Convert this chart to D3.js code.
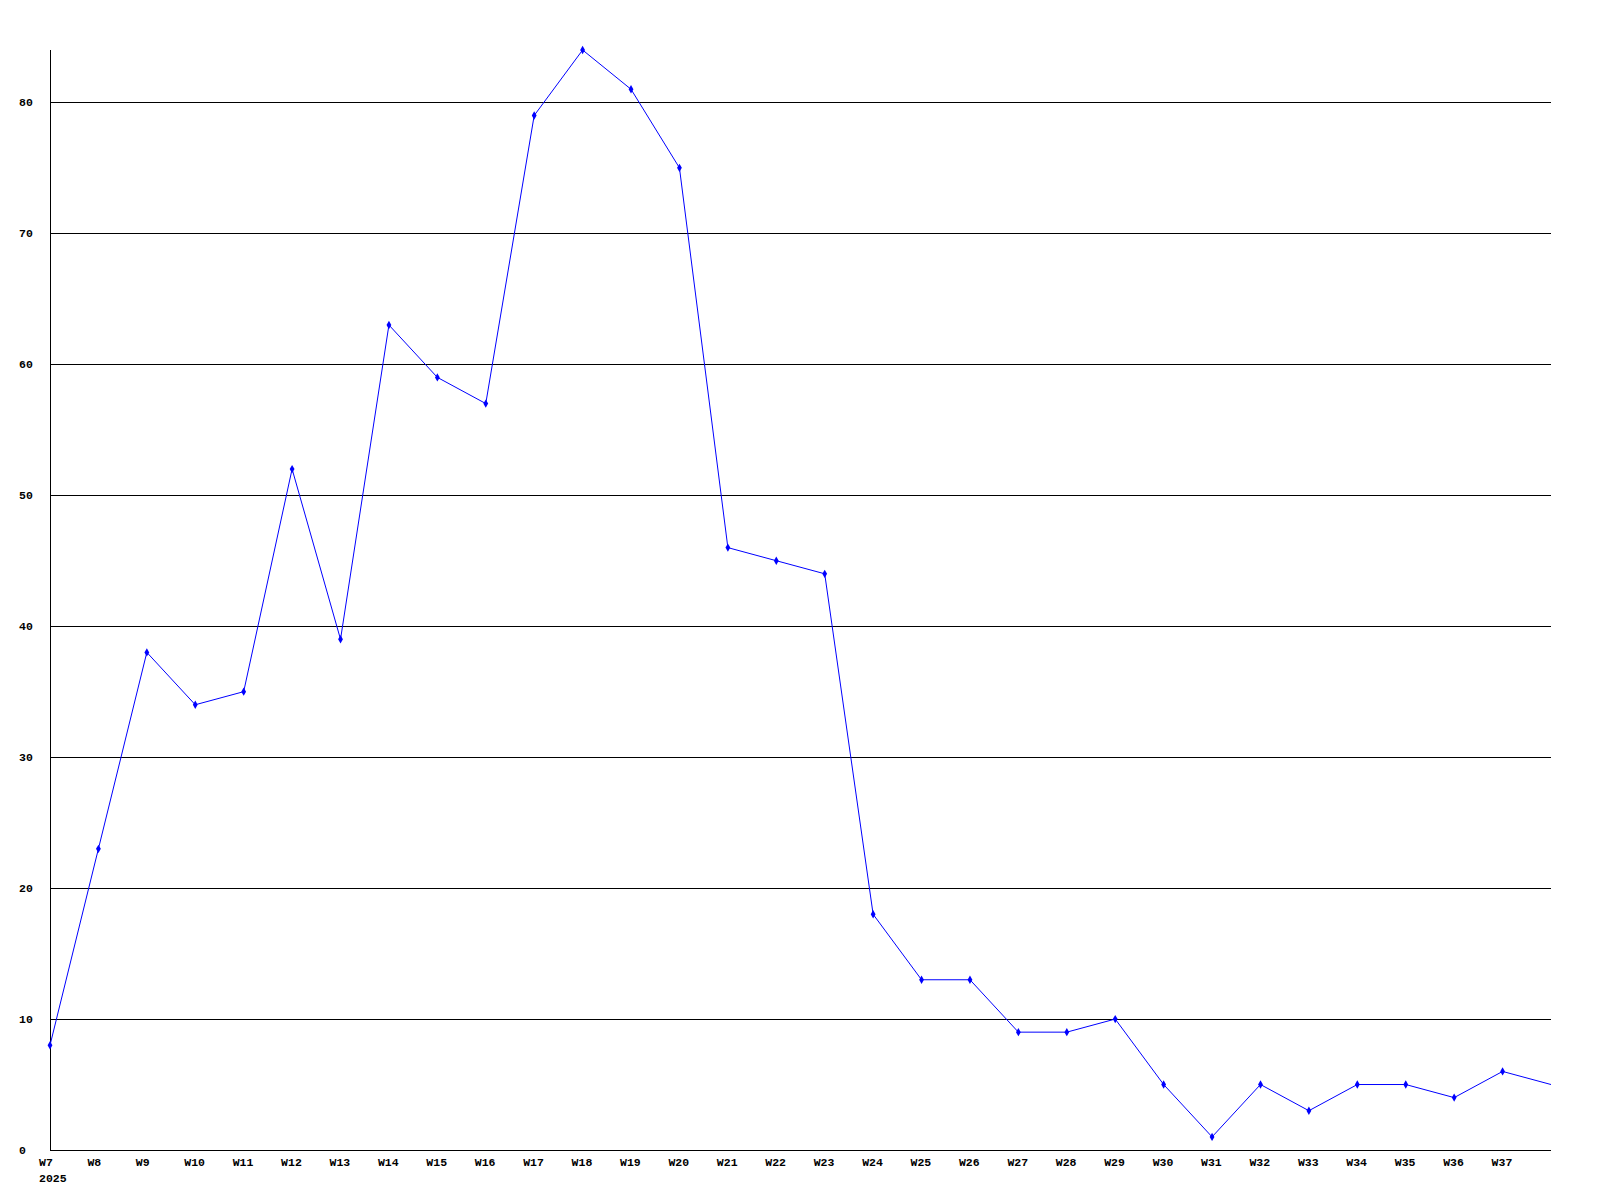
<!DOCTYPE html>
<html>
<head>
<meta charset="utf-8">
<script src="https://cdn.jsdelivr.net/npm/d3@7"></script>
<style>
  html, body { margin: 0; padding: 0; background: #fff; }
  svg { display: block; }
  text { font-family: "Liberation Mono", "DejaVu Sans Mono", monospace; font-weight: bold; font-size: 11.5px; fill: #000; }
</style>
</head>
<body>
<svg id="chart" width="1600" height="1200"></svg>
<script>
const weeks = ["W7","W8","W9","W10","W11","W12","W13","W14","W15","W16","W17","W18","W19","W20","W21","W22","W23","W24","W25","W26","W27","W28","W29","W30","W31","W32","W33","W34","W35","W36","W37","W38"];
const values = [8,23,38,34,35,52,39,63,59,57,79,84,81,75,46,45,44,18,13,13,9,9,10,5,1,5,3,5,5,4,6,5];
const yTicks = [0,10,20,30,40,50,60,70,80];
const tickLabelWeeks = weeks.slice(0, 31);
const yearLabel = "2025";

const svg = d3.select("#chart");
const mLeft = 50, mRight = 1551, mTop = 50, mBottom = 1150;

const x = d3.scalePoint().domain(weeks).range([mLeft, mRight]);
const y = d3.scaleLinear().domain([0, 84]).range([mBottom, mTop]);

// gridlines
svg.append("g").selectAll("line").data(yTicks.filter(d => d > 0)).join("line")
  .attr("x1", mLeft).attr("x2", mRight)
  .attr("y1", d => Math.round(y(d)) + 0.5).attr("y2", d => Math.round(y(d)) + 0.5)
  .attr("stroke", "#000").attr("stroke-width", 1).attr("shape-rendering", "crispEdges");

// axes lines
svg.append("line").attr("x1", mLeft + 0.5).attr("x2", mLeft + 0.5).attr("y1", mTop).attr("y2", mBottom)
  .attr("stroke", "#000").attr("shape-rendering", "crispEdges");
svg.append("line").attr("x1", mLeft).attr("x2", mRight).attr("y1", mBottom + 0.5).attr("y2", mBottom + 0.5)
  .attr("stroke", "#000").attr("shape-rendering", "crispEdges");

// y labels
svg.append("g").selectAll("text").data(yTicks).join("text")
  .attr("x", 19).attr("y", d => y(d)).attr("dy", "0.35em")
  .text(d => d);

// x labels
svg.append("g").selectAll("text").data(tickLabelWeeks).join("text")
  .attr("x", d => x(d) - 11).attr("y", 1166)
  .text(d => d);
svg.append("text").attr("x", x(weeks[0]) - 11).attr("y", 1182).text(yearLabel);

// line
const line = d3.line().x((d, i) => x(weeks[i])).y(d => y(d));
svg.append("path").datum(values).attr("d", line)
  .attr("fill", "none").attr("stroke", "#0000ff").attr("stroke-width", 1);

// markers
const diamond = d3.symbol().type(d3.symbolDiamond).size(20);
svg.append("g").selectAll("path").data(values.slice(0, values.length - 1)).join("path")
  .attr("transform", (d, i) => `translate(${x(weeks[i])},${y(d)})`)
  .attr("d", diamond)
  .attr("fill", "#0000ff");
</script>
</body>
</html>
